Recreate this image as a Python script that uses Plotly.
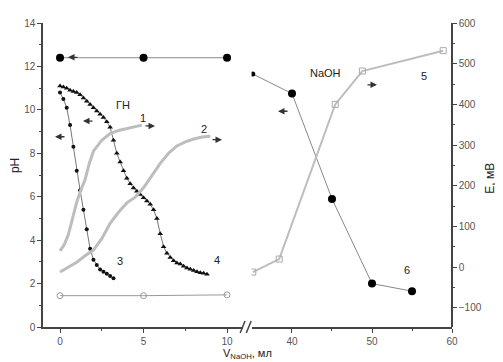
import plotly.graph_objects as go

# curve 1 and 2: E, mV (right axis), left part of broken x axis
x1 = [0, 0.25, 0.5, 0.75, 1.0, 1.25, 1.5, 1.75, 2.0, 2.5, 3.0, 3.5, 4.0, 4.5, 4.9]
e1 = [40, 55, 80, 120, 160, 190, 215, 255, 285, 312, 328, 336, 341, 346, 349]

x2 = [0, 0.5, 1.0, 1.5, 2.0, 2.5, 3.0, 3.5, 4.0, 4.5, 5.0, 5.5, 6.0, 6.5, 7.0, 7.5, 8.0, 8.5, 9.0]
e2 = [-12, 0, 12, 28, 42, 70, 108, 135, 158, 172, 195, 225, 255, 280, 298, 308, 315, 320, 322]

# curve 3 and 4: pH (left axis)
x3 = [0, 0.2, 0.4, 0.6, 0.8, 1.0, 1.2, 1.4, 1.6, 1.8, 2.0, 2.2, 2.4, 2.6, 2.8, 3.0, 3.2]
ph3 = [10.8, 10.5, 10.1, 9.3, 8.3, 7.2, 6.3, 5.4, 4.5, 3.6, 3.1, 2.85, 2.65, 2.55, 2.45, 2.35, 2.25]

x4 = [0, 0.2, 0.4, 0.6, 0.8, 1.0, 1.2, 1.4, 1.6, 1.8, 2.0, 2.2, 2.4, 2.6, 2.8, 3.0,
      3.2, 3.4, 3.6, 3.8, 4.0, 4.2, 4.4, 4.6, 4.8, 5.0, 5.2, 5.4, 5.6, 5.8, 6.0,
      6.2, 6.4, 6.6, 6.8, 7.0, 7.2, 7.4, 7.6, 7.8, 8.0, 8.2, 8.4, 8.6, 8.8]
ph4 = [11.1, 11.05, 11.0, 10.9, 10.85, 10.8, 10.7, 10.55, 10.4, 10.25, 10.1, 9.95, 9.8, 9.65, 9.45, 9.2,
       8.6, 8.0, 7.6, 7.2, 6.85, 6.6, 6.4, 6.25, 6.1, 5.95, 5.8, 5.65, 5.4, 5.0, 4.3,
       3.7, 3.4, 3.2, 3.05, 2.95, 2.9, 2.8, 2.72, 2.66, 2.6, 2.55, 2.5, 2.47, 2.43]

# NaOH blank: pH (curve 6) and E (curve 5), both parts of the broken axis
x6a = [0, 5, 10]
ph6a = [12.4, 12.4, 12.4]
x6b = [35.1, 40, 45, 50, 55]
ph6b = [11.65, 10.75, 5.9, 2.0, 1.65]

x5a = [0, 5, 10]
e5a = [-70, -70, -68]
x5b = [35.1, 38.4, 45.4, 48.8, 58.9]
e5b = [-12, 20, 400, 482, 532]

GRAY = "#bdbdbd"
DARK = "#444444"

fig = go.Figure()

fig.add_trace(go.Scatter(x=x1, y=e1, xaxis="x", yaxis="y2", mode="lines",
                         line=dict(color=GRAY, width=3)))
fig.add_trace(go.Scatter(x=x2, y=e2, xaxis="x", yaxis="y2", mode="lines",
                         line=dict(color=GRAY, width=3)))
fig.add_trace(go.Scatter(x=x5a, y=e5a, xaxis="x", yaxis="y2", mode="lines+markers",
                         line=dict(color="#999", width=1),
                         marker=dict(symbol="circle-open", size=6, color="#999")))
fig.add_trace(go.Scatter(x=x5b, y=e5b, xaxis="x2", yaxis="y2", mode="lines+markers",
                         line=dict(color=GRAY, width=2),
                         marker=dict(symbol="square-open", size=6, color="#aaa")))
fig.add_trace(go.Scatter(x=x3, y=ph3, xaxis="x", yaxis="y", mode="lines+markers",
                         line=dict(color="#777", width=1),
                         marker=dict(symbol="circle", size=4, color="#111")))
fig.add_trace(go.Scatter(x=x4, y=ph4, xaxis="x", yaxis="y", mode="lines+markers",
                         line=dict(color="#777", width=1),
                         marker=dict(symbol="triangle-up", size=5, color="#111")))
fig.add_trace(go.Scatter(x=x6a, y=ph6a, xaxis="x", yaxis="y", mode="lines+markers",
                         line=dict(color="#888", width=1),
                         marker=dict(symbol="circle", size=8, color="#000", opacity=1,
                                     line=dict(width=0))))
fig.add_trace(go.Scatter(x=x6b, y=ph6b, xaxis="x2", yaxis="y", mode="lines+markers",
                         line=dict(color="#888", width=1),
                         marker=dict(symbol="circle", size=[5, 8, 8, 8, 8], color="#000",
                                     opacity=1, line=dict(width=0))))

tickfont = dict(family="Liberation Sans, Arial", size=10, color="#555")
axis_common = dict(showgrid=False, zeroline=False, showline=True, linecolor=DARK,
                   linewidth=1.5, ticks="outside", ticklen=4, tickcolor=DARK,
                   tickfont=tickfont)

# the page body adds an 8px offset, so the figure is 8px smaller
fig.update_layout(
    width=495, height=354,
    margin=dict(l=35, r=51, t=9, b=35),
    paper_bgcolor="white", plot_bgcolor="white",
    showlegend=False,
    font=dict(family="Liberation Sans, Arial", color="#222"),
    xaxis=dict(domain=[0, 0.49], range=[-1.02, 10.98], anchor="y",
               tickvals=[0, 5, 10], minor=dict(tickvals=[2.5, 7.5], ticks="outside", ticklen=2),
               **axis_common),
    xaxis2=dict(domain=[0.51, 1], range=[34.95, 60], anchor="y",
                tickvals=[40, 50, 60], minor=dict(tickvals=[45, 55], ticks="outside", ticklen=2),
                **axis_common),
    yaxis=dict(range=[0, 14], dtick=2, anchor="x",
               minor=dict(dtick=1, ticks="outside", ticklen=2), **axis_common),
    yaxis2=dict(range=[-147, 600], dtick=100, overlaying="y", side="right",
                anchor="free", position=1,
                minor=dict(dtick=50, ticks="outside", ticklen=2), **axis_common),
)

# axis titles
fig.add_annotation(text="pH", xref="paper", yref="paper", x=-0.068, y=0.53,
                   xanchor="center", textangle=-90, showarrow=False,
                   font=dict(size=12, color="#222"))
fig.add_annotation(text="E, мВ", xref="paper", yref="paper", x=1.092, y=0.49,
                   xanchor="center", textangle=-90, showarrow=False,
                   font=dict(size=12, color="#222"))
fig.add_annotation(text="V<sub>NaOH</sub>, мл", xref="paper", yref="paper", x=0.5, y=-0.06,
                   xanchor="center", yanchor="top", showarrow=False,
                   font=dict(size=11, color="#222"))

# curve labels
labels = [("ГН", 123, 92), ("1", 143, 106), ("2", 204, 117), ("3", 120, 268),
          ("4", 217, 267), ("5", 424, 63), ("6", 407, 277), ("NaOH", 325, 60)]
for txt, px, py in labels:
    fig.add_annotation(text=txt, xref="paper", yref="paper",
                       x=(px - 43) / 409, y=(327 - py) / 310, showarrow=False,
                       xanchor="center", font=dict(size=11, color="#222"))

# axis-indicator arrows (head px, py, direction)
arrows = [(55, 133, -1), (83, 117, -1), (155, 122, 1), (222, 136, 1),
          (278, 107, -1), (377, 80, 1), (68, 52, -1)]
for px, py, d in arrows:
    fig.add_annotation(text="", xref="paper", yref="paper",
                       x=(px - 43) / 409, y=(327 - py) / 310,
                       ax=-d * 11, ay=0, showarrow=True, arrowhead=2,
                       arrowsize=1, arrowwidth=1.3, arrowcolor="#333")

# axis break marks
for bx in (0.482, 0.497):
    fig.add_shape(type="line", xref="paper", yref="paper",
                  x0=bx, y0=-0.02, x1=bx + 0.012, y1=0.02,
                  line=dict(color=DARK, width=1.5))

fig.write_html("out.html")
